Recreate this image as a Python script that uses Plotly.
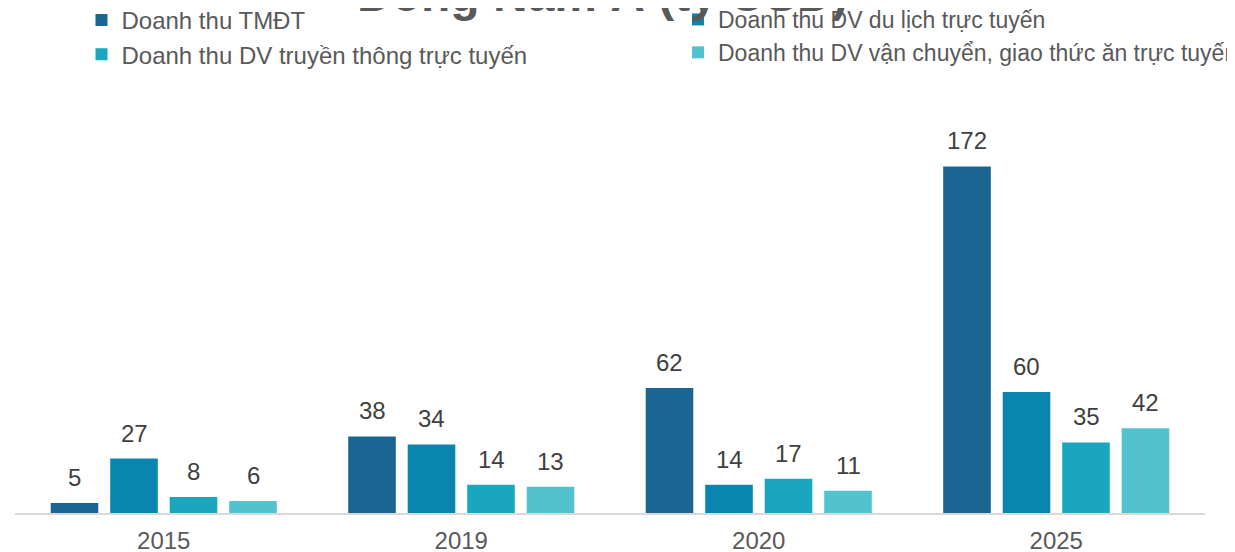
import plotly.graph_objects as go

years = ["2015", "2019", "2020", "2025"]
series_names = [
    "Doanh thu TMĐT",
    "Doanh thu DV du lịch trực tuyến",
    "Doanh thu DV truyền thông trực tuyến",
    "Doanh thu DV vận chuyển, giao thức ăn trực tuyến",
]
tmdt = [5, 38, 62, 172]
du_lich = [27, 34, 14, 60]
truyen_thong = [8, 14, 17, 35]
van_chuyen = [6, 13, 11, 42]
colors = ["#1B6592", "#0A85AF", "#1AA6BF", "#52C3CE"]
legend_ids = ["legend", "legend2", "legend", "legend2"]
title_text = "Đông Nam Á (tỷ USD)"

FONT = "Liberation Sans, Arial, sans-serif"
W, H = 1235, 552
ML, MR, MT, MB = 7, 38, 102, 47
BARGAP, GROUPGAP = 0.2, 0.2

all_series = [tmdt, du_lich, truyen_thong, van_chuyen]
fig = go.Figure()
for name, vals, col, lg in zip(series_names, all_series, colors, legend_ids):
    fig.add_trace(go.Bar(
        x=years, y=vals, name=name, legend=lg,
        marker=dict(color=col, line=dict(width=0)),
    ))

# value labels above bars (category axis: annotation x uses category index units)
slot = (1 - BARGAP) / len(all_series)
annotations = []
for i, vals in enumerate(all_series):
    off = (i - (len(all_series) - 1) / 2) * slot
    for j, v in enumerate(vals):
        annotations.append(dict(
            x=j + off, y=v, xref="x", yref="y", text=str(v), showarrow=False,
            yshift=10, yanchor="bottom", xanchor="center",
            font=dict(size=24, color="#404040", family=FONT)))
annotations.append(dict(
    x=0.494, y=1.216, xref="paper", yref="paper", text=title_text, showarrow=False,
    xanchor="center", yanchor="bottom",
    font=dict(size=48, color="#595959", family=FONT, weight="bold")))

legend_common = dict(orientation="v", xref="container", yref="paper",
                     yanchor="top", itemwidth=30, bgcolor="rgba(0,0,0,0)")

fig.update_layout(
    width=W, height=H,
    paper_bgcolor="white", plot_bgcolor="white",
    barmode="group", bargap=BARGAP, bargroupgap=GROUPGAP,
    margin=dict(l=ML, r=MR, t=MT, b=MB, autoexpand=False),
    font=dict(family=FONT, color="#595959"),
    annotations=annotations,
    legend=dict(x=0.0595, y=1.278, xanchor="left",
                font=dict(size=24, color="#595959", family=FONT), **legend_common),
    legend2=dict(x=1.0, y=1.278, xanchor="right",
                 font=dict(size=23, color="#595959", family=FONT), **legend_common),
    showlegend=True,
)
fig.update_xaxes(type="category", showline=True, linecolor="#D9D9D9", linewidth=2,
                 ticks="", automargin=False, ticklabelstandoff=5,
                 range=[-0.5, len(years) - 0.5],
                 tickfont=dict(size=24, color="#595959", family=FONT), showgrid=False)
fig.update_yaxes(visible=False, range=[0, 200], showgrid=False, zeroline=False,
                 automargin=False)

fig.write_html("out.html")
